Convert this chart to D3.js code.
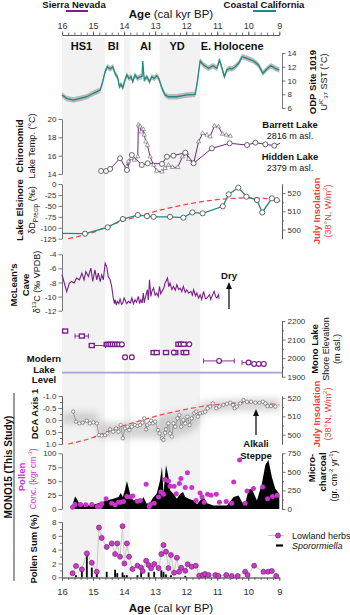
<!DOCTYPE html>
<html><head><meta charset="utf-8">
<script src="https://cdn.jsdelivr.net/npm/d3@7"></script>
<style>
body{margin:0;background:#fff}
svg{display:block;font-family:"Liberation Sans",Arial,Helvetica,sans-serif}
</style></head><body>
<svg id="c" width="350" height="615"></svg>
<script>
// ---------- DATA ----------
const xTicks = [16,15,14,13,12,11,10,9];
const periodNames = ["HS1","BI","AI","YD","E. Holocene"];
const periodLabelAge = [15.37,14.35,13.31,12.29,10.52];
const bandStart = [16,14.0,12.86];
const bandEnd = [14.61,13.8,11.55];

// ODP 1019 SST
const sstAge = [16.0,15.85,15.63,15.42,15.2,14.99,14.77,14.69,14.61,14.54,14.45,14.36,14.29,14.21,14.15,14.1,14.04,13.97,13.91,13.84,13.77,13.72,13.65,13.57,13.48,13.42,13.4,13.35,13.27,13.18,13.11,13.03,12.95,12.88,12.78,12.68,12.57,12.3,11.98,11.71,11.64,11.55,11.44,11.28,11.14,11.01,10.93,10.85,10.77,10.69,10.6,10.53,10.42,10.31,10.2,10.04,9.83,9.67,9.53,9.4,9.27,9.13,9.0];
const sstVal = [7.9,7.4,7.16,7.4,7.64,8.14,8.6,9.8,11.3,12.0,11.67,12.0,11.0,10.5,9.1,9.45,8.95,10.07,10.8,10.3,10.55,9.83,10.8,10.3,10.55,10.6,12.84,10.07,10.55,9.83,10.55,10.3,10.7,10.3,8.86,7.9,7.64,7.64,7.9,7.99,9.83,12.84,12.25,11.77,12.15,11.77,12.98,11.86,10.55,11.52,11.77,11.67,12.0,12.5,13.46,13.23,12.84,12.25,11.05,11.67,12.15,11.77,11.52];
const sstErr = 0.4;

// Chironomid
const hiddenAge = [14.74,14.58,14.45,14.13,13.91,13.75,13.43,13.24,12.78,12.62,12.41,12.03,11.76,11.17,10.6,10.04,9.77,9.45,9.16,8.97];
const hiddenTemp = [14.33,14.33,14.55,15.71,14.44,16.07,14.98,15.17,15.1,15.89,16.0,16.33,15.17,16.8,17.35,17.16,17.42,17.24,17.09,17.35];
const barrettAge = [13.91,13.86,13.77,13.67,13.56,13.54,13.5,13.48,13.45,13.38,13.35,13.3,13.25,13.16,13.05,12.95,12.78,12.68,12.57,12.44,12.27,12.12,11.98,11.92,11.76,11.6,11.47,11.33,11.23,11.09,10.96,10.83,10.71,10.58];
const barrettTemp = [14.8,15.35,15.71,15.53,15.9,19.35,19.2,19.16,18.6,18.87,18.26,17.53,17.16,15.89,14.98,14.33,14.25,14.62,14.98,14.73,14.73,15.89,16.26,15.6,15.17,17.53,18.44,18.26,18.07,19.24,19.16,18.36,18.26,18.15];

// Lake Elsinore dD
const elsAge = [16.0,15.26,14.53,14.04,13.56,13.26,13.05,12.52,12.09,11.80,11.47,10.82,10.63,10.32,10.06,9.72,9.55,9.24,9.08,8.97];
const elsVal = [-113,-113.6,-99,-80,-71,-73.5,-75,-75,-77,-65,-67,-51,-23.6,-8.4,-29,-36.6,-65,-32.8,-37,-39];

// July insolation 38N
const insAge = [15.8,15,14.5,14,13.5,13,12.5,12,11.5,11,10.5,10,9.5,9];
const insVal = [495,498.5,502,505,507.5,510,512,513.8,515.3,516.4,517.1,517.4,517.1,516.3];

// McLean's Cave d13C
const mcAge = [16.0,15.94,15.85,15.76,15.69,15.61,15.53,15.44,15.36,15.29,15.23,15.15,15.07,15.01,14.94,14.88,14.83,14.77,14.72,14.67,14.61,14.56,14.51,14.45,14.4,14.35,14.31,14.29,14.25,14.22,14.17,14.13,14.08,14.04,14.0,13.97,13.92,13.86,13.8,13.75,13.7,13.65,13.6,13.54,13.5,13.46,13.42,13.38,13.35,13.32,13.25,13.22,13.18,13.14,13.1,13.05,13.0,12.95,12.9,12.86,12.82,12.78,12.72,12.68,12.6,12.56,12.52,12.46,12.41,12.35,12.3,12.24,12.19,12.14,12.09,12.03,11.98,11.92,11.85,11.8,11.76,11.7,11.66,11.6,11.55,11.5,11.44,11.38,11.33,11.25,11.21,11.17,11.1,11.05,11.01,10.96,10.94];
const mcVal = [-6.9,-7.86,-9.3,-8.08,-7.86,-8.08,-7.38,-7.62,-6.68,-7.62,-6.45,-7.15,-5.97,-7.86,-6.21,-7.62,-6.68,-7.86,-6.92,-7.62,-5.27,-5.75,-7.15,-7.62,-8.56,-10.2,-11.0,-10.44,-11.2,-10.68,-11.0,-10.34,-11.1,-10.9,-10.2,-10.44,-11.0,-10.68,-10.9,-10.2,-11.0,-10.44,-10.8,-9.97,-11.0,-10.44,-10.9,-9.5,-10.9,-10.2,-9.03,-10.5,-7.62,-9.97,-9.2,-8.79,-9.8,-9.5,-10.0,-8.56,-9.6,-9.26,-8.8,-8.08,-7.38,-8.6,-8.08,-9.0,-8.56,-9.1,-8.32,-9.0,-8.79,-9.3,-8.56,-9.4,-9.03,-9.5,-9.26,-9.8,-9.03,-9.9,-9.5,-10.2,-9.73,-10.4,-9.26,-10.3,-10.2,-9.73,-10.4,-9.97,-9.26,-10.0,-10.2,-9.73,-10.3];

// Mono Lake shorelines
const monoAge = [15.9,15.36,15.04,14.56,14.5,14.43,14.36,14.29,14.22,14.15,14.07,13.97,13.75,13.05,12.95,12.65,12.4,12.35,12.08,12.0,12.25,12.17,12.08,11.9,10.94,9.99,9.81,9.66,9.5];
const monoElev = [2146,2119,2068,2074,2074,2074,2074,2074,2074,2074,2074,2005,2005,2030,2030,2030,2030,2030,2030,2030,2075,2075,2075,2075,1985,1976,1969,1969,1969];
const monoShape = ["s","s","s","s","s","s","s","s","s","s","c","c","c","s","s","s","c","s","s","s","s","s","s","c","c","c","c","c","c"];
const monoErrOld = [null,15.58,15.1,null,null,null,null,null,null,null,null,14.03,13.8,13.1,null,null,null,null,null,null,null,null,null,null,11.44,10.2,null,null,null];
const monoErrYoung = [null,15.15,14.6,null,null,null,null,null,null,null,null,13.91,13.7,13.0,null,null,null,null,null,null,null,null,null,null,10.45,9.92,null,null,null];
const modernLevel = 1922;

// DCA axis 1
const dcaAge = [15.64,15.55,15.44,15.33,15.2,15.1,14.99,14.88,14.81,14.72,14.61,14.54,14.45,14.35,14.26,14.18,14.11,14.04,13.97,13.89,13.83,13.75,13.65,13.57,13.48,13.41,13.35,13.29,13.25,13.18,13.13,13.07,13.0,12.91,12.86,12.78,12.73,12.68,12.65,12.57,12.52,12.46,12.41,12.35,12.28,12.22,12.16,12.09,12.03,11.96,11.89,11.82,11.74,11.68,11.62,11.55,11.46,11.39,11.31,11.23,11.14,11.03,10.93,10.8,10.69,10.58,10.49,10.44,10.37,10.26,10.15,10.04,9.91,9.77,9.64,9.53,9.45,9.38,9.27,9.13];
const dcaVal = [-0.35,0.07,0.14,0.11,0.03,0.14,0.1,0.14,0.63,0.65,0.63,0.56,0.39,0.49,0.35,0.49,0.21,0.76,0.35,0.28,0.42,0.28,0.21,0.25,0.21,0.11,-0.07,0.39,0.21,0.14,0.03,0.14,0.07,0.42,0.56,0.76,0.83,0.53,0.39,0.14,0.56,0.69,0.14,0.28,-0.07,-0.21,0.28,0.0,0.14,-0.14,0.21,-0.07,-0.28,-0.35,-0.14,-0.28,-0.31,-0.35,-0.49,-0.56,-0.69,-0.49,-0.56,-0.63,-0.67,-0.72,-0.63,-0.49,-0.56,-0.69,-0.83,-0.76,-0.76,-0.72,-0.72,-0.76,-0.69,-0.58,-0.58,-0.56];
const dcaBandAge = [16.0,14.9,14.8,13.0,12.9,11.6,11.5,10.1,9.0];
const dcaBandLo = [-0.3,-0.3,0.1,0.1,-0.15,-0.45,-0.75,-0.85,-0.9];
const dcaBandHi = [0.15,0.15,0.75,0.75,0.8,0.3,-0.25,-0.4,-0.4];

// Pollen concentration
const concAge = [15.66,15.58,15.4,15.23,15.04,14.86,14.77,14.72,14.58,14.4,14.29,14.18,14.11,14.02,13.91,13.8,13.72,13.57,13.48,13.29,13.19,13.16,13.03,12.89,12.82,12.73,12.68,12.57,12.52,12.39,12.32,12.22,12.17,12.03,11.96,11.82,11.68,11.55,11.49,11.42,11.31,11.2,11.03,10.93,10.71,10.53,10.47,10.28,10.1,10.04,9.83,9.54,9.38,9.22,9.07];
const concVal = [3,8,8,7.5,8,4.5,4.5,9.4,18.5,10.5,7.6,12.3,12.3,13.6,22.6,21.4,23.2,14.1,15.4,44.4,4.5,8.2,10.5,21.4,30.4,26.3,52.9,50.4,40.8,40.8,27.5,45.6,54.7,38.4,64.9,38.4,15.4,28.6,21.4,12.3,26.3,24.5,26.3,12.3,13.6,10.5,48.6,87.9,10.5,32.2,36.6,39.5,18.5,22.6,24.5];

// Micro-charcoal
const charAge = [15.7,15.58,15.53,15.44,15.31,15.1,14.88,14.72,14.56,14.35,14.18,14.11,14.04,13.97,13.91,13.86,13.78,13.7,13.59,13.48,13.38,13.27,13.16,13.05,12.95,12.84,12.78,12.73,12.65,12.57,12.52,12.41,12.3,12.19,12.1,12.03,11.92,11.76,11.65,11.55,11.44,11.33,11.12,10.9,10.69,10.47,10.31,10.2,10.1,9.99,9.89,9.72,9.56,9.45,9.35,9.24,9.13,9.02,9.0];
const charVal = [0,170,140,70,60,48,70,92,115,138,160,215,160,260,378,297,160,115,138,79,160,70,92,160,206,387,568,206,591,432,251,206,138,206,228,160,138,115,65,115,160,79,48,48,48,160,183,92,70,260,274,115,342,591,659,432,274,215,200];

// Pollen sum (%)
const herbAge = [15.66,15.55,15.36,15.2,15.04,14.88,14.81,14.72,14.56,14.4,14.29,14.22,14.13,14.05,13.99,13.91,13.84,13.73,13.57,13.45,13.4,13.29,13.21,13.13,13.03,12.89,12.8,12.73,12.65,12.57,12.49,12.39,12.3,12.23,12.16,12.03,11.95,11.82,11.69,11.58,11.47,11.39,11.28,11.06,10.96,10.71,10.53,10.34,10.1,10.02,9.81,9.51,9.36,9.24,9.1];
const herbVal = [0.58,1.63,1.15,3.46,2.1,0.81,7.2,5.7,4.4,4.9,3.36,4.9,2.97,7.4,2.0,4.9,2.97,1.2,1.68,1.39,0.91,2.4,1.77,1.3,1.92,1.34,3.36,4.66,3.7,1.34,3.22,0.66,2.83,0.81,1.39,0.95,1.88,1.53,1.68,0.23,0.33,0.48,0.33,0.33,0.19,0.33,0.19,0.19,0.81,0.33,1.68,0.81,0.81,0.91,0.19];
const sporAge = [15.55,15.36,15.2,15.04,14.88,14.56,14.29,14.22,14.05,13.99,13.91,13.57,13.45,13.21,13.03,12.8,12.73,12.65,12.49,12.03,11.58,11.47,11.39,9.1];
const sporVal = [0.3,1.4,3.5,1.4,0.8,0.8,1.1,0.6,0.7,0.3,0.3,0.3,0.8,0.7,0.8,1.0,0.8,0.4,0.3,0.2,0.2,0.4,0.3,0.3];

// ---------- DRAW ----------
const svg = d3.select("#c");
const X0 = 62, X1 = 279.3, XR = 282;
const x = d3.scaleLinear().domain([16,9]).range([X0,X1]);
const TEAL = "#1f8a82", PURPLE = "#7b1f8b", RED = "#e8453c", MAG = "#cc33cc";
const defs = svg.append("defs");
defs.append("filter").attr("id","blur").attr("x","-20%").attr("y","-50%").attr("width","140%").attr("height","200%")
  .append("feGaussianBlur").attr("stdDeviation",3.5);

// shaded periods
svg.append("g").selectAll("rect").data(bandStart).join("rect")
  .attr("x",d=>x(d)).attr("width",(d,i)=>x(bandEnd[i])-x(d))
  .attr("y",38).attr("height",577-38).attr("fill","#f2f2f2");

function styleAxis(g, fs){
  g.attr("font-family",null).attr("font-size",null);
  g.select(".domain").attr("stroke","#555").attr("stroke-width",0.8);
  g.selectAll(".tick line").attr("stroke","#555").attr("stroke-width",0.8);
  g.selectAll(".tick text").attr("fill","#333").attr("font-size",fs||8);
}
function yAxis(side, scale, ticks, fmt, minor){
  const xp = side==="left"?X0:XR;
  const mk = side==="left"?d3.axisLeft:d3.axisRight;
  if(minor){
    const gm = svg.append("g").attr("transform",`translate(${xp},0)`)
      .call(mk(scale).tickValues(minor).tickSize(2).tickSizeOuter(0).tickFormat(""));
    styleAxis(gm);
  }
  const g = svg.append("g").attr("transform",`translate(${xp},0)`)
    .call(mk(scale).tickValues(ticks).tickSize(3.5).tickSizeOuter(0).tickPadding(2).tickFormat(fmt||(d=>String(d))));
  styleAxis(g);
}
function rot(xc, yc, parts, opt){
  opt = opt||{};
  const t = svg.append("text").attr("transform",`translate(${xc},${yc}) rotate(-90)`)
    .attr("text-anchor","middle").attr("dominant-baseline","central")
    .attr("font-size",opt.size||9).attr("fill",opt.fill||"#111")
    .attr("font-weight",opt.bold?"bold":"normal");
  parts.forEach(p=>{
    if(typeof p==="string"){ t.append("tspan").text(p); }
    else { const s=t.append("tspan").text(p.t); if(p.dy) s.attr("dy",p.dy); if(p.fs) s.attr("font-size",p.fs); if(p.b) s.attr("font-weight","bold"); }
  });
  return t;
}
function htext(xc, yb, str, opt){
  opt=opt||{};
  return svg.append("text").attr("x",xc).attr("y",yb).attr("text-anchor",opt.anchor||"middle")
    .attr("font-size",opt.size||9.5).attr("font-weight",opt.bold?"bold":"normal")
    .attr("font-style",opt.italic?"italic":"normal").attr("fill",opt.fill||"#111").text(str);
}

// top legend + title
htext(74,8,"Sierra Nevada",{bold:true,size:9.5});
svg.append("line").attr("x1",66).attr("x2",88).attr("y1",11).attr("y2",11).attr("stroke",PURPLE).attr("stroke-width",2);
htext(264,8,"Coastal California",{bold:true,size:9.5});
svg.append("line").attr("x1",253).attr("x2",276).attr("y1",11).attr("y2",11).attr("stroke",TEAL).attr("stroke-width",2);
function ageTitle(yb){
  const t = svg.append("text").attr("x",171).attr("y",yb).attr("text-anchor","middle").attr("font-size",11.5).attr("fill","#111");
  t.append("tspan").attr("font-weight","bold").text("Age");
  t.append("tspan").text(" (cal kyr BP)");
}
ageTitle(17.5);
ageTitle(612);

// top & bottom x axes
const minorX = d3.range(45,81).map(d=>d/5);
const gtm = svg.append("g").attr("transform","translate(0,35)").call(d3.axisTop(x).tickValues(minorX).tickSize(2.5).tickSizeOuter(0).tickFormat(""));
styleAxis(gtm);
const gt = svg.append("g").attr("transform","translate(0,35)").call(d3.axisTop(x).tickValues(xTicks).tickSize(3.5).tickSizeOuter(0).tickPadding(3).tickFormat(d=>d));
styleAxis(gt,9);
const gbm = svg.append("g").attr("transform","translate(0,577.5)").call(d3.axisBottom(x).tickValues(minorX).tickSize(2.5).tickSizeOuter(0).tickFormat(""));
styleAxis(gbm);
const gb = svg.append("g").attr("transform","translate(0,577.5)").call(d3.axisBottom(x).tickValues(xTicks).tickSize(3.5).tickSizeOuter(0).tickPadding(7).tickFormat(d=>d));
styleAxis(gb,9.5);

// period labels
svg.append("g").selectAll("text").data(periodNames).join("text")
  .attr("x",(d,i)=>x(periodLabelAge[i])).attr("y",50).attr("text-anchor","middle")
  .attr("font-size",11).attr("font-weight","bold").attr("fill","#111").text(d=>d);

// ---- Panel 1: SST ----
const y1 = d3.scaleLinear().domain([6,14]).range([108,53]);
yAxis("right",y1,[6,8,10,12,14]);
const sstIdx = d3.range(sstAge.length);
svg.append("path").datum(sstIdx).attr("fill","#b8b8b8")
  .attr("d",d3.area().x(i=>x(sstAge[i])).y0(i=>y1(sstVal[i]-sstErr)).y1(i=>y1(sstVal[i]+sstErr)));
svg.append("path").datum(sstIdx).attr("fill","none").attr("stroke",TEAL).attr("stroke-width",1.3)
  .attr("d",d3.line().x(i=>x(sstAge[i])).y(i=>y1(sstVal[i])));
rot(312,82,["ODP Site 1019"],{bold:true,size:9.5});
rot(324,82,["U",{t:"K'",dy:-3,fs:6},{t:"37",dy:5,fs:6},{t:" SST (°C)",dy:-2}],{size:9});

// ---- Panel 2: Chironomid ----
const y2 = d3.scaleLinear().domain([14,20]).range([174,119]);
yAxis("left",y2,[14,16,18,20]);
const bIdx = d3.range(barrettAge.length), hIdx = d3.range(hiddenAge.length);
svg.append("path").datum(bIdx).attr("fill","none").attr("stroke",PURPLE).attr("stroke-width",1)
  .attr("d",d3.line().x(i=>x(barrettAge[i])).y(i=>y2(barrettTemp[i])));
svg.append("path").datum(hIdx).attr("fill","none").attr("stroke",PURPLE).attr("stroke-width",1)
  .attr("d",d3.line().x(i=>x(hiddenAge[i])).y(i=>y2(hiddenTemp[i])));
svg.append("g").selectAll("path").data(bIdx).join("path")
  .attr("transform",i=>`translate(${x(barrettAge[i])},${y2(barrettTemp[i])})`)
  .attr("d",d3.symbol(d3.symbolTriangle).size(8)).attr("fill","#fff").attr("stroke","#777").attr("stroke-width",0.7);
svg.append("g").selectAll("circle").data(hIdx.slice(0,-1)).join("circle")
  .attr("cx",i=>x(hiddenAge[i])).attr("cy",i=>y2(hiddenTemp[i])).attr("r",2.5)
  .attr("fill","#fff").attr("stroke","#444").attr("stroke-width",0.8);
rot(19,146,["Chironomid"],{bold:true,size:9.5});
rot(32,146,["Lake Temp. (°C)"],{size:9});
htext(290,128,"Barrett Lake",{bold:true,size:9.5});
htext(290,139,"2816 m asl.",{size:9});
htext(290,160,"Hidden Lake",{bold:true,size:9.5});
htext(290,170.5,"2379 m asl.",{size:9});

// ---- Panel 3: Lake Elsinore ----
const y3 = d3.scaleLinear().domain([-125,0]).range([238.7,184]);
const y3i = d3.scaleLinear().domain([495,525]).range([238.7,184]);
yAxis("left",y3,[-125,-100,-75,-50,-25,0]);
yAxis("right",y3i,[500,510,520],null,[505,515]);
const insIdx = d3.range(insAge.length);
svg.append("path").datum(insIdx).attr("fill","none").attr("stroke",RED).attr("stroke-width",1.2).attr("stroke-dasharray","5,3")
  .attr("d",d3.line().curve(d3.curveMonotoneX).x(i=>x(insAge[i])).y(i=>y3i(insVal[i])));
const eIdx = d3.range(elsAge.length);
svg.append("path").datum(eIdx).attr("fill","none").attr("stroke",TEAL).attr("stroke-width",1.3)
  .attr("d",d3.line().x(i=>x(elsAge[i])).y(i=>y3(elsVal[i])));
svg.append("g").selectAll("circle").data(eIdx.slice(1,-1)).join("circle")
  .attr("cx",i=>x(elsAge[i])).attr("cy",i=>y3(elsVal[i])).attr("r",2.6)
  .attr("fill","#fff").attr("stroke","#444").attr("stroke-width",0.8);
rot(19,210,["Lake Elsinore"],{bold:true,size:9.5});
rot(32,210,["δD",{t:"Precip",dy:2.5,fs:6.5},{t:" (‰)",dy:-2.5}],{size:9});
rot(316,211,["July Insolation"],{bold:true,size:9.5,fill:RED});
rot(328,211,["(38°N, W/m",{t:"2",dy:-3,fs:6},{t:")",dy:3}],{size:9,fill:RED});

// ---- Panel 4: McLean's Cave ----
const y4 = d3.scaleLinear().domain([-12,-4]).range([310.7,254.3]);
yAxis("left",y4,[-12,-10,-8,-6,-4]);
const mIdx = d3.range(mcAge.length);
svg.append("path").datum(mIdx).attr("fill","none").attr("stroke",PURPLE).attr("stroke-width",1.1)
  .attr("d",d3.line().x(i=>x(mcAge[i])).y(i=>y4(mcVal[i])));
rot(13,285,["McLean's"],{bold:true,size:9.5});
rot(25,285,["Cave"],{bold:true,size:9.5});
rot(37,282,["δ",{t:"13",dy:-3,fs:6},{t:"C (‰ VPDB)",dy:3}],{size:9});
htext(229,278.5,"Dry",{bold:true,size:9.5});
svg.append("line").attr("x1",229).attr("x2",229).attr("y1",309).attr("y2",287).attr("stroke","#111").attr("stroke-width",1.3);
svg.append("path").attr("d","M229,282 L226,289 L232,289 Z").attr("fill","#111");

// ---- Panel 5: Mono Lake ----
const y5 = d3.scaleLinear().domain([1900,2200]).range([376.7,321]);
yAxis("right",y5,[1900,2000,2100,2200],null,[1950,2050,2150]);
svg.append("line").attr("x1",X0).attr("x2",XR).attr("y1",y5(modernLevel)).attr("y2",y5(modernLevel))
  .attr("stroke","#a3a3d8").attr("stroke-width",1.6);
const moIdx = d3.range(monoAge.length);
const eb = svg.append("g").attr("stroke",PURPLE).attr("stroke-width",0.9);
moIdx.filter(i=>monoErrOld[i]!==null).forEach(i=>{
  const yy = y5(monoElev[i]);
  eb.append("line").attr("x1",x(monoErrOld[i])).attr("x2",x(monoErrYoung[i])).attr("y1",yy).attr("y2",yy);
  eb.append("line").attr("x1",x(monoErrOld[i])).attr("x2",x(monoErrOld[i])).attr("y1",yy-2.5).attr("y2",yy+2.5);
  eb.append("line").attr("x1",x(monoErrYoung[i])).attr("x2",x(monoErrYoung[i])).attr("y1",yy-2.5).attr("y2",yy+2.5);
});
svg.append("g").selectAll("rect").data(moIdx.filter(i=>monoShape[i]==="s")).join("rect")
  .attr("x",i=>x(monoAge[i])-2.5).attr("y",i=>y5(monoElev[i])-2).attr("width",5).attr("height",4)
  .attr("fill","#fff").attr("stroke",PURPLE).attr("stroke-width",1.4);
svg.append("g").selectAll("circle").data(moIdx.filter(i=>monoShape[i]==="c")).join("circle")
  .attr("cx",i=>x(monoAge[i])).attr("cy",i=>y5(monoElev[i])).attr("r",2.4)
  .attr("fill","#fff").attr("stroke",PURPLE).attr("stroke-width",1.2);
htext(44,362,"Modern",{bold:true,size:9.5});
htext(44,372.5,"Lake",{bold:true,size:9.5});
htext(44,383,"Level",{bold:true,size:9.5});
rot(314,349,["Mono Lake"],{bold:true,size:9.5});
rot(325.5,349,["Shore Elevation"],{size:9});
rot(337,349,["(m asl.)"],{size:9});

// ---- Panel 6: DCA ----
const y6 = d3.scaleLinear().domain([-1,1]).range([396,444]);
const y6i = d3.scaleLinear().domain([495,521]).range([444,396]);
yAxis("left",y6,[-1,-0.5,0,0.5,1],d=>d.toFixed(1),[-0.75,-0.25,0.25,0.75]);
yAxis("right",y6i,[500,510,520],null,[505,515]);
const bdIdx = d3.range(dcaBandAge.length);
svg.append("path").datum(bdIdx).attr("fill","#a8a8a8").attr("opacity",0.5).attr("filter","url(#blur)")
  .attr("d",d3.area().curve(d3.curveMonotoneX).x(i=>x(dcaBandAge[i])).y0(i=>y6(dcaBandLo[i])).y1(i=>y6(dcaBandHi[i])));
svg.append("path").datum(insIdx).attr("fill","none").attr("stroke",RED).attr("stroke-width",1.2).attr("stroke-dasharray","5,3")
  .attr("d",d3.line().curve(d3.curveMonotoneX).x(i=>x(insAge[i])).y(i=>y6i(insVal[i])));
const dIdx = d3.range(dcaAge.length);
svg.append("path").datum(dIdx).attr("fill","none").attr("stroke","#8a8a8a").attr("stroke-width",0.8)
  .attr("d",d3.line().x(i=>x(dcaAge[i])).y(i=>y6(dcaVal[i])));
svg.append("g").selectAll("circle").data(dIdx).join("circle")
  .attr("cx",i=>x(dcaAge[i])).attr("cy",i=>y6(dcaVal[i])).attr("r",1.7)
  .attr("fill","#fff").attr("stroke","#666").attr("stroke-width",0.7);
rot(34,414,["DCA Axis 1"],{bold:true,size:9.5});
rot(316,414,["July Insolation"],{bold:true,size:9.5,fill:RED});
rot(328,414,["(38°N, W/m",{t:"2",dy:-3,fs:6},{t:")",dy:3}],{size:9,fill:RED});
svg.append("line").attr("x1",256).attr("x2",256).attr("y1",435).attr("y2",414).attr("stroke","#111").attr("stroke-width",1.3);
svg.append("path").attr("d","M256,409 L253,416 L259,416 Z").attr("fill","#111");
htext(256,447,"Alkali",{bold:true,size:9.5});
htext(256,458.5,"Steppe",{bold:true,size:9.5});

// ---- Panel 7: Pollen conc + charcoal ----
const y7 = d3.scaleLinear().domain([0,100]).range([509,453.3]);
const y7c = d3.scaleLinear().domain([0,750]).range([509,453.3]);
yAxis("left",y7,[0,25,50,75,100]);
yAxis("right",y7c,[0,250,500,750],null,[125,375,625]);
const cIdx = d3.range(charAge.length);
svg.append("path").datum(cIdx).attr("fill","#000")
  .attr("d",d3.area().x(i=>x(charAge[i])).y0(y7c(0)).y1(i=>y7c(charVal[i])));
const pIdx = d3.range(concAge.length);
svg.append("g").selectAll("circle").data(pIdx).join("circle")
  .attr("cx",i=>x(concAge[i])).attr("cy",i=>y7(concVal[i])).attr("r",2.5).attr("fill",MAG);
rot(21,477,["Pollen"],{bold:true,size:9.5,fill:MAG});
rot(33,479,["Conc. (kgr cm",{t:"-3",dy:-3,fs:6},{t:")",dy:3}],{size:8.5,fill:MAG});
rot(311,468,["Micro-"],{bold:true,size:9.5});
rot(322,472,["charcoal"],{bold:true,size:9.5});
rot(334,476,["(gr. cm",{t:"-2",dy:-3,fs:6},{t:" yr",dy:3},{t:"-1",dy:-3,fs:6},{t:")",dy:3}],{size:9});

// ---- Panel 8: Pollen sum ----
const y8 = d3.scaleLinear().domain([0,8]).range([577.3,522]);
yAxis("left",y8,[0,2,4,6,8],null,[1,3,5,7]);
const sIdx = d3.range(sporAge.length);
svg.append("g").selectAll("line").data(sIdx).join("line")
  .attr("x1",i=>x(sporAge[i])).attr("x2",i=>x(sporAge[i])).attr("y1",y8(0)).attr("y2",i=>y8(sporVal[i]))
  .attr("stroke","#000").attr("stroke-width",1.8);
const hbIdx = d3.range(herbAge.length);
svg.append("path").datum(hbIdx).attr("fill","none").attr("stroke","#c8c8c8").attr("stroke-width",1)
  .attr("d",d3.line().x(i=>x(herbAge[i])).y(i=>y8(herbVal[i])));
svg.append("g").selectAll("circle").data(hbIdx).join("circle")
  .attr("cx",i=>x(herbAge[i])).attr("cy",i=>y8(herbVal[i])).attr("r",2.5)
  .attr("fill","#c63dc6").attr("stroke","#7d237d").attr("stroke-width",0.7);
rot(33,549,["Pollen Sum (%)"],{bold:true,size:9.5});
// legend
svg.append("line").attr("x1",268).attr("x2",284).attr("y1",535.5).attr("y2",535.5).attr("stroke","#c8c8c8").attr("stroke-width",1);
svg.append("circle").attr("cx",278).attr("cy",535.5).attr("r",2.5).attr("fill","#c63dc6").attr("stroke","#7d237d").attr("stroke-width",0.7);
htext(292,538.8,"Lowland herbs",{anchor:"start",size:9});
svg.append("line").attr("x1",276).attr("x2",283).attr("y1",545.5).attr("y2",545.5).attr("stroke","#000").attr("stroke-width",2.2);
htext(292,549,"Sporormiella",{anchor:"start",size:9,italic:true});

// MONO15 label
rot(7.5,467,["MONO15 (This Study)"],{bold:true,size:10});
svg.append("line").attr("x1",14).attr("x2",14).attr("y1",393).attr("y2",581).attr("stroke","#222").attr("stroke-width",0.9);
</script>
</body></html>
